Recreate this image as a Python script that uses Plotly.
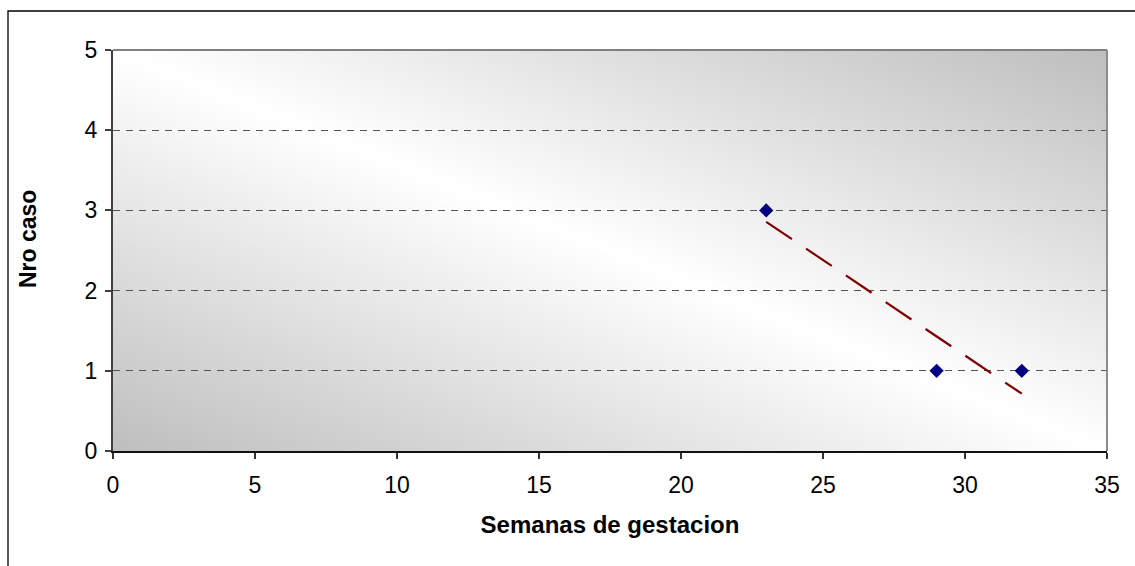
import base64
import numpy as np
import plotly.graph_objects as go

# Cases by gestational week
semanas = [23, 29, 32]
casos = [3, 1, 1]

x_ticks = [0, 5, 10, 15, 20, 25, 30, 35]
y_ticks = [0, 1, 2, 3, 4, 5]

x_title = "Semanas de gestacion"
y_title = "Nro caso"

# Linear trend fitted to the points, drawn across the observed weeks
slope, intercept = np.polyfit(semanas, casos, 1)
trend_x = [min(semanas), max(semanas)]
trend_y = [slope * v + intercept for v in trend_x]

FONT = "Liberation Sans, Arial, sans-serif"

# Diagonal grey-white-grey gradient for the plot area
svg = (
    "<svg xmlns='http://www.w3.org/2000/svg' width='994' height='401' "
    "viewBox='0 0 994 401' preserveAspectRatio='none'>"
    "<defs><linearGradient id='g' x1='0' y1='1' x2='1' y2='0'>"
    "<stop offset='0' stop-color='#bebebe'/>"
    "<stop offset='0.5' stop-color='#ffffff'/>"
    "<stop offset='1' stop-color='#bebebe'/>"
    "</linearGradient></defs>"
    "<rect x='0' y='0' width='994' height='401' fill='url(#g)'/></svg>"
)
bg_src = "data:image/svg+xml;base64," + base64.b64encode(svg.encode()).decode()

fig = go.Figure()

fig.add_trace(go.Scatter(
    x=trend_x, y=trend_y, mode="lines",
    line=dict(color="#800000", width=2.2, dash="31px,17px"),
    hoverinfo="skip", showlegend=False,
))

fig.add_trace(go.Scatter(
    x=semanas, y=casos, mode="markers",
    marker=dict(symbol="diamond", size=11, color="#000080",
                line=dict(width=0)),
    showlegend=False,
))

fig.update_layout(
    width=1135, height=566, autosize=False,
    margin=dict(l=113, r=28, t=50, b=115, pad=0),
    paper_bgcolor="white", plot_bgcolor="white",
    font=dict(family=FONT, color="black", size=23),
    images=[dict(source=bg_src, xref="paper", yref="paper",
                 x=0, y=1, sizex=1, sizey=1, sizing="stretch",
                 xanchor="left", yanchor="top", layer="below")],
    shapes=[
        # outer chart frame
        dict(type="rect", xref="paper", yref="paper",
             x0=(8 - 113) / 994, x1=(1145 - 113) / 994,
             y0=(451 - 580) / 401, y1=(451 - 11) / 401,
             line=dict(color="black", width=1.3), fillcolor="rgba(0,0,0,0)"),
        # plot area top and right edges
        dict(type="line", xref="paper", yref="paper", x0=0, x1=1, y0=1, y1=1,
             line=dict(color="#808080", width=2)),
        dict(type="line", xref="paper", yref="paper", x0=1, x1=1, y0=0, y1=1,
             line=dict(color="#8c8c8c", width=2)),
    ],
    annotations=[
        dict(text=y_title, xref="paper", yref="paper",
             x=(28 - 113) / 994, y=(451 - 239) / 401,
             xanchor="center", yanchor="middle", textangle=-90,
             showarrow=False,
             font=dict(family=FONT, size=23, color="black", weight="bold")),
    ],
    xaxis=dict(
        range=[0, 35], tickmode="array", tickvals=x_ticks,
        showgrid=False, zeroline=False,
        showline=True, linecolor="#111111", linewidth=2,
        ticks="outside", ticklen=6, tickwidth=1.5, tickcolor="#333333",
        tickfont=dict(size=23), ticklabelstandoff=6,
        title=dict(text=x_title, standoff=20,
                   font=dict(size=24, weight="bold")),
    ),
    yaxis=dict(
        range=[0, 5], tickmode="array", tickvals=y_ticks,
        showgrid=True, gridcolor="#555555", gridwidth=1.2, griddash="7px,6px",
        zeroline=False,
        showline=True, linecolor="#404040", linewidth=2,
        ticks="outside", ticklen=6, tickwidth=1.5, tickcolor="#404040",
        tickfont=dict(size=23), ticklabelstandoff=3,
    ),
)

fig.write_html("out.html")
